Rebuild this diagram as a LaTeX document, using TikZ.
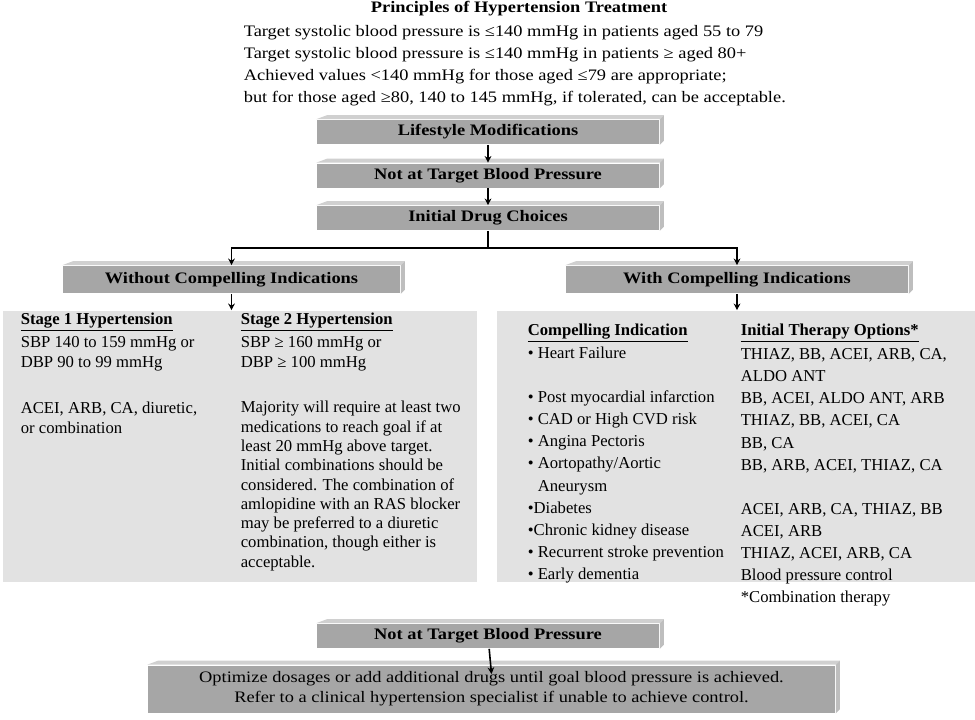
\documentclass[tikz,border=0pt]{standalone}
\usepackage{fontspec}
\setmainfont{Liberation Serif}[FakeStretch=1.15]
\newfontfamily\panelfont{Liberation Serif}
\usetikzlibrary{arrows.meta}

\definecolor{barfront}{RGB}{166,166,166}
\definecolor{bartop}{RGB}{208,208,208}
\definecolor{barside}{RGB}{190,190,190}
\definecolor{panelgray}{RGB}{226,226,226}

\tikzset{
  bar/.style={fill=barfront, minimum width=256.5pt, minimum height=18pt,
    inner sep=0pt, align=center, font=\fontsize{12}{15}\selectfont\bfseries},
  panel/.style={fill=panelgray, inner sep=0pt},
  txt/.style={inner sep=0pt, align=left, anchor=west, font=\panelfont\fontsize{12.5}{14.8}\selectfont},
  head/.style={txt, font=\panelfont\fontsize{12.5}{14}\selectfont\bfseries},
  citxt/.style={txt, font=\panelfont\fontsize{12.5}{16.6}\selectfont}
}

% top and right faces of a bar
\newcommand{\barfaces}[1]{%
  \fill[bartop] (#1.north west) -- ++(8pt,3pt) -- ([xshift=3pt,yshift=3pt]#1.north east)
    -- (#1.north east) -- cycle;
  \fill[barside] (#1.north east) -- ++(3pt,3pt) -- ([xshift=3pt,yshift=3pt]#1.south east)
    -- (#1.south east) -- cycle;}

\begin{document}
\begin{tikzpicture}[x=0.75pt, y=-0.75pt, >={Stealth[length=5pt,width=5pt]}, line width=1.2pt]
\useasboundingbox (0,0) rectangle (975,719);

% principles
\node (title) [font=\fontsize{12}{14}\selectfont\bfseries] at (519,9) {Principles of Hypertension Treatment};
\node (goals) [inner sep=0pt, align=left, anchor=west, font=\fontsize{12}{16.5}\selectfont] at (243,66)
  {Target systolic blood pressure is ≤140 mmHg in patients aged 55 to 79\\
   Target systolic blood pressure is ≤140 mmHg in patients ≥ aged 80+\\
   Achieved values <140 mmHg for those aged ≤79 are appropriate;\\
   but for those aged ≥80, 140 to 145 mmHg, if tolerated, can be acceptable.};

% panels
\node (nopanel) [panel, minimum width=355.5pt, minimum height=203.25pt] at (240,446.5) {};
\node (cipanel) [panel, minimum width=358.5pt, minimum height=203.25pt] at (736,446.5) {};

% bars
\node (life) [bar] at (488,132) {Lifestyle Modifications};
\node (target) [bar] at (488,175.5) {Not at Target Blood Pressure};
\node (drugs) [bar] at (488,218) {Initial Drug Choices};
\node (withoutci) [bar, minimum width=252.75pt, minimum height=20.25pt] at (231.5,279.5) {Without Compelling Indications};
\node (withci) [bar, minimum height=20.25pt] at (737,279.5) {With Compelling Indications};
\node (target2) [bar] at (488,636) {Not at Target Blood Pressure};
\node (optimize) [bar, minimum width=515.25pt, minimum height=35.25pt, font=\fontsize{12}{15}\selectfont] at (491.5,689)
  {Optimize dosages or add additional drugs until goal blood pressure is achieved.\\
   Refer to a clinical hypertension specialist if unable to achieve control.};
\foreach \b in {life,target,drugs,withoutci,withci,target2,optimize} {\barfaces{\b}}

% without compelling indications
\node (s1head) [head] at (20,322) {\underline{Stage 1 Hypertension}};
\node (s1bp) [txt] at (20,354) {SBP 140 to 159 mmHg or\\ DBP 90 to 99 mmHg};
\node (s1drug) [txt] at (20,418) {ACEI, ARB, CA, diuretic,\\ or combination};
\node (s2head) [head] at (240,322) {\underline{Stage 2 Hypertension}};
\node (s2bp) [txt] at (240,354) {SBP ≥ 160 mmHg or\\ DBP ≥ 100 mmHg};
\node (s2drug) [txt, font=\panelfont\fontsize{12.5}{14.45}\selectfont] at (240,486)
  {Majority will require at least two\\ medications to reach goal if at\\ least 20 mmHg above target.\\
   Initial combinations should be\\ considered. The combination of\\ amlopidine with an RAS blocker\\
   may be preferred to a diuretic\\ combination, though either is\\ acceptable.};

% with compelling indications
\node (cihead) [head] at (527,333) {\underline{Compelling Indication}};
\node (thhead) [head] at (740,333) {\underline{Initial Therapy Options*}};
\node (cilist) [citxt] at (527,465)
  {• Heart Failure\\ \mbox{}\\ • Post myocardial infarction\\ • CAD or High CVD risk\\ • Angina Pectoris\\
   • Aortopathy/Aortic\\ \phantom{• }Aneurysm\\ •Diabetes\\ •Chronic kidney disease\\
   • Recurrent stroke prevention\\ • Early dementia};
\node (thlist) [citxt] at (740,477.5)
  {THIAZ, BB, ACEI, ARB, CA,\\ ALDO ANT\\ BB, ACEI, ALDO ANT, ARB\\ THIAZ, BB, ACEI, CA\\ BB, CA\\
   BB, ARB, ACEI, THIAZ, CA\\ \mbox{}\\ ACEI, ARB, CA, THIAZ, BB\\ ACEI, ARB\\ THIAZ, ACEI, ARB, CA\\
   Blood pressure control\\ *Combination therapy};

% connectors
\coordinate (split) at (488,248);
\draw[->] (life) -- (target);
\draw[->] (target) -- (drugs);
\draw (drugs) -- (split);
\draw[->] (split) -| (withoutci);
\draw[->] (split) -| (withci);
\draw[->] (withoutci) -- (nopanel.north -| withoutci);
\draw[->] (withci) -- (cipanel.north -| withci);
\draw[->] (target2) -- ([yshift=-7pt]optimize.north);
\end{tikzpicture}
\end{document}
